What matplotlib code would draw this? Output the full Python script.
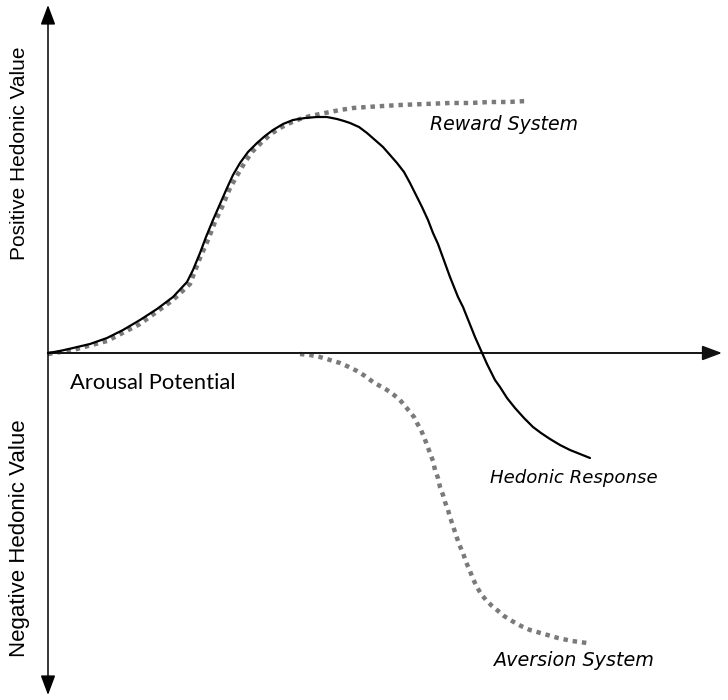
import matplotlib
matplotlib.use("Agg")
import matplotlib.pyplot as plt

# Data coordinates: origin at the crossing of the axes
hedonic_x = [0, 12, 25, 42, 59, 75, 92, 109, 125, 139, 145, 152, 158, 165, 172, 179, 185, 192,
             200, 209, 217, 225, 235, 245, 257, 269, 279, 289, 296, 302, 311, 319, 327, 335,
             342, 349, 356, 362, 368, 374, 380, 385, 390, 394, 398, 402, 406, 410, 415, 419,
             423, 427, 431, 435, 439, 443, 447, 452, 459, 467, 476, 485, 493, 502, 512, 522,
             532, 542]
hedonic_y = [0, 2, 5, 9, 15, 23, 33, 44, 56, 71, 83, 100, 116, 133, 149, 165, 178, 190,
             201, 210, 217, 223, 229, 233, 235, 236, 236, 234, 232, 230, 226, 220, 213, 206,
             198, 190, 181, 170, 158, 146, 133, 120, 109, 98, 87, 76, 66, 56, 46, 36,
             26, 16, 7, -2, -11, -19, -27, -34, -45, -55, -65, -74, -80, -86, -92, -97,
             -101, -105]

reward_x = [0, 25, 59, 92, 125, 142, 152, 160, 167, 175, 182, 190, 197, 205, 214, 223, 232,
            242, 252, 262, 272, 282, 292, 305, 319, 335, 352, 377, 402, 422, 442, 460, 479]
reward_y = [-1, 3, 12, 29, 53, 69, 95, 113, 131, 148, 165, 179, 191, 202, 211, 219, 225,
            230, 234, 237, 239, 241, 243, 245, 246, 247, 248, 249, 250, 250, 251, 251, 252]

aversion_x = [252, 262, 272, 282, 292, 301, 309, 317, 325, 332, 339, 346, 352, 357, 362, 366,
              369, 373, 376, 379, 382, 385, 387, 390, 392, 395, 397, 400, 402, 405, 408, 411,
              415, 418, 422, 425, 429, 433, 438, 443, 449, 456, 464, 473, 482, 496, 510, 524,
              539]
aversion_y = [-1, -2, -4, -7, -10, -14, -18, -23, -29, -33, -37, -42, -47, -53, -59, -64,
              -70, -77, -84, -92, -100, -108, -117, -125, -134, -142, -149, -157, -164, -173,
              -182, -191, -200, -209, -218, -226, -234, -241, -247, -252, -257, -263, -268,
              -273, -277, -281, -285, -288, -290]

fig = plt.figure(figsize=(7.28, 7.0), dpi=100)
ax = fig.add_axes([0, 0, 1, 1])
ax.set_xlim(-48, 680)
ax.set_ylim(-347, 353)
ax.axis("off")

# axes with arrows
ax.annotate("", xy=(674, 0), xytext=(0, 0),
            arrowprops=dict(arrowstyle="-|>,head_length=1.2,head_width=0.45",
                            color="#111111", lw=1.3, shrinkA=0, shrinkB=0))
ax.plot([0, 660], [0, 0], color="#555555", lw=1.3)
ax.annotate("", xy=(0, 348), xytext=(0, 0),
            arrowprops=dict(arrowstyle="-|>,head_length=1.2,head_width=0.45",
                            color="black", lw=1.1, shrinkA=0, shrinkB=0))
ax.annotate("", xy=(0, -342), xytext=(0, 0),
            arrowprops=dict(arrowstyle="-|>,head_length=1.2,head_width=0.45",
                            color="black", lw=1.1, shrinkA=0, shrinkB=0))

dot_style = dict(color="#7a7a7a", lw=3.2, linestyle=(0, (1, 1.1)), dash_capstyle="butt")
ax.plot(reward_x, reward_y, **dot_style, zorder=2)
ax.plot(aversion_x, aversion_y, **dot_style, zorder=2)
ax.plot(hedonic_x, hedonic_y, color="black", lw=1.6, zorder=3,
        solid_joinstyle="round", solid_capstyle="round")

ax.text(-28, 200, "Positive Hedonic Value", rotation=90, ha="center", va="center",
        family="Liberation Sans", fontsize=15, color="black")
ax.text(-28, -185, "Negative Hedonic Value", rotation=90, ha="center", va="center",
        family="Liberation Sans", fontsize=16, color="black")

ax.text(22, -30, "Arousal Potential", ha="left", va="center",
        family="Lato", fontsize=15.8, color="black")

curve_font = dict(family="DejaVu Sans", style="italic", color="black")
ax.text(382, 228, "Reward System", ha="left", va="center", fontsize=13.6, **curve_font)
ax.text(442, -125, "Hedonic Response", ha="left", va="center", fontsize=13.1, **curve_font)
ax.text(445, -308, "Aversion System", ha="left", va="center", fontsize=13.8, **curve_font)

fig.savefig("out.png", dpi=100)
